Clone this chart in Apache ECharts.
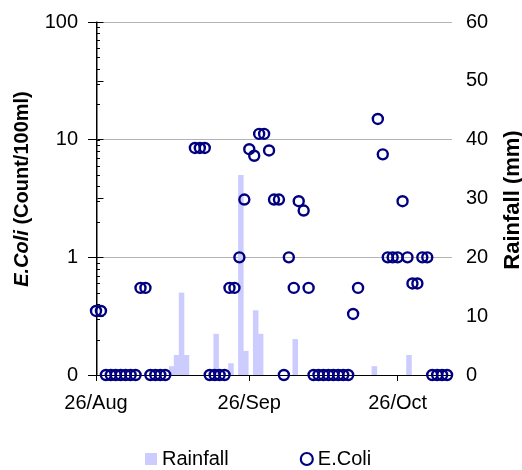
<!DOCTYPE html>
<html>
<head>
<meta charset="utf-8">
<script src="https://cdn.jsdelivr.net/npm/echarts@6/dist/echarts.min.js"></script>
<style>
html,body{margin:0;padding:0;background:#fff;}
#chart{width:522px;height:470px;}
</style>
</head>
<body>
<div id="chart"></div>
<script>
// Days counted from 26 Aug
const xTickDays = [0, 31, 61];
const xTickLabels = ['26/Aug', '26/Sep', '26/Oct'];

// Rainfall (mm)
const rainDay = [15, 16, 17, 18, 24, 27, 29, 30, 32, 33, 40, 56, 63];
const rainMM  = [1.5, 3.4, 14.0, 3.4, 7.0, 2.0, 34.0, 4.1, 11.0, 7.0, 6.1, 1.5, 3.4];

// E.Coli (Count/100ml)
const ecoliDay = [0, 1, 2, 3, 4, 5, 6, 7, 8, 9, 10, 11, 12, 13, 14,
  20, 21, 22, 23, 24, 25, 26, 27, 28, 29, 30, 31, 32, 33, 34, 35, 36, 37, 38, 39, 40,
  41, 42, 43, 44, 45, 46, 47, 48, 49, 50, 51, 52, 53,
  57, 58, 59, 60, 61, 62, 63, 64, 65, 66, 67, 68, 69, 70, 71];
const ecoliCount = [0.35, 0.35, 0.1, 0.1, 0.1, 0.1, 0.1, 0.1, 0.1, 0.55, 0.55, 0.1, 0.1, 0.1, 0.1,
  8.5, 8.5, 8.5, 0.1, 0.1, 0.1, 0.1, 0.55, 0.55, 1, 3.1, 8.3, 7.3, 11.2, 11.2, 8.1, 3.1, 3.1, 0.1, 1, 0.55,
  3.0, 2.5, 0.55, 0.1, 0.1, 0.1, 0.1, 0.1, 0.1, 0.1, 0.1, 0.33, 0.55,
  15, 7.5, 1, 1, 1, 3.0, 1, 0.6, 0.6, 1, 1, 0.1, 0.1, 0.1, 0.1];

// Left axis tick labels and minor tick values
const leftTickLabels = {0.1: '0', 1: '1', 10: '10', 100: '100'};
const leftMinorTicks = [0.2, 0.3, 0.4, 0.5, 0.6, 0.7, 0.8, 0.9, 1,
  2, 3, 4, 5, 6, 7, 8, 9, 10, 20, 30, 40, 50, 60, 70, 80, 90, 100];

const FONT = '"Liberation Sans", Arial, sans-serif';

const chart = echarts.init(document.getElementById('chart'));

const option = {
  animation: false,
  backgroundColor: '#fff',
  grid: {left: 96, right: 70, top: 22, bottom: 95},
  legend: {
    top: 444,
    left: 140,
    itemWidth: 12,
    itemHeight: 12,
    itemGap: 71,
    textStyle: {fontSize: 20, color: '#000', fontFamily: FONT},
    data: [
      {name: 'Rainfall', icon: 'rect', itemStyle: {color: '#CCCCFF'}},
      {name: 'E.Coli', icon: 'circle', itemStyle: {color: '#fff', borderColor: '#000080', borderWidth: 2.2}}
    ]
  },
  xAxis: [
    {
      type: 'value', min: 0, max: 72, position: 'bottom',
      axisLine: {show: true, onZero: false, lineStyle: {color: '#000', width: 1}},
      axisTick: {show: true, inside: false, length: 6, customValues: xTickDays, lineStyle: {color: '#000'}},
      axisLabel: {
        customValues: xTickDays,
        formatter: function (v) { const i = xTickDays.indexOf(Math.round(v)); return i >= 0 ? xTickLabels[i] : ''; },
        fontSize: 20, color: '#000', fontFamily: FONT, margin: 18
      },
      splitLine: {show: false}
    },
    {
      type: 'value', min: -0.3, max: 71.7, show: false
    }
  ],
  yAxis: [
    {
      type: 'log', logBase: 10, min: 0.1, max: 100, position: 'left',
      axisLine: {show: true, lineStyle: {color: '#000', width: 1}},
      axisTick: {show: true, inside: false, length: 8, lineStyle: {color: '#000'}},
      axisLabel: {
        formatter: function (v) {
          const r = v < 0.5 ? 0.1 : Math.round(v);
          return leftTickLabels[r] !== undefined ? leftTickLabels[r] : String(r);
        },
        fontSize: 20, color: '#000', fontFamily: FONT, margin: 18
      },
      splitLine: {show: true, lineStyle: {color: '#b4b4b4', width: 1}},
      minorTick: {show: false}
    },
    {
      type: 'value', min: 0, max: 60, interval: 10, position: 'right',
      axisLine: {show: true, lineStyle: {color: '#808080', width: 1}},
      axisTick: {show: true, inside: false, length: 6, lineStyle: {color: '#000'}},
      axisLabel: {fontSize: 20, color: '#000', fontFamily: FONT, margin: 14},
      splitLine: {show: false}
    }
  ],
  series: [
    {
      name: 'Rainfall', type: 'bar', xAxisIndex: 1, yAxisIndex: 1,
      barWidth: 5.5,
      itemStyle: {color: '#CCCCFF'},
      data: rainDay.map(function (d, i) { return [d, rainMM[i]]; }),
      z: 2
    },
    {
      name: 'E.Coli', type: 'scatter', xAxisIndex: 0, yAxisIndex: 0,
      symbol: 'circle', symbolSize: 10,
      itemStyle: {color: 'rgba(255,255,255,0)', borderColor: '#000080', borderWidth: 2.4, opacity: 1},
      emphasis: {disabled: true},
      data: ecoliDay.map(function (d, i) { return [d, ecoliCount[i]]; }),
      z: 4
    },
    {
      name: 'minorTicks', type: 'custom', xAxisIndex: 0, yAxisIndex: 0,
      silent: true, clip: false, z: 5,
      data: leftMinorTicks.map(function (v) { return [0, v]; }),
      renderItem: function (params, api) {
        const p = api.coord([0, api.value(1)]);
        const y = Math.round(p[1]) + 0.5;
        return {
          type: 'line',
          shape: {x1: p[0], y1: y, x2: p[0] + 4, y2: y},
          style: {stroke: '#000', lineWidth: 1}
        };
      }
    }
  ],
  graphic: [
    {
      type: 'text', x: 22, y: 189, rotation: Math.PI / 2,
      style: {
        text: '{i|E.Coli}{n| (Count/100ml)}',
        align: 'center', verticalAlign: 'middle',
        fill: '#000',
        fontSize: 20, fontWeight: 'bold', fontFamily: FONT,
        rich: {
          i: {fontStyle: 'italic', fontWeight: 'bold', fontSize: 20, fontFamily: FONT, fill: '#000'},
          n: {fontWeight: 'bold', fontSize: 20, fontFamily: FONT, fill: '#000'}
        }
      }
    },
    {
      type: 'text', x: 513, y: 200, rotation: Math.PI / 2,
      style: {
        text: 'Rainfall (mm)',
        align: 'center', verticalAlign: 'middle',
        fill: '#000',
        fontSize: 22, fontWeight: 'bold', fontFamily: FONT
      }
    }
  ]
};

chart.setOption(option);
</script>
</body>
</html>
